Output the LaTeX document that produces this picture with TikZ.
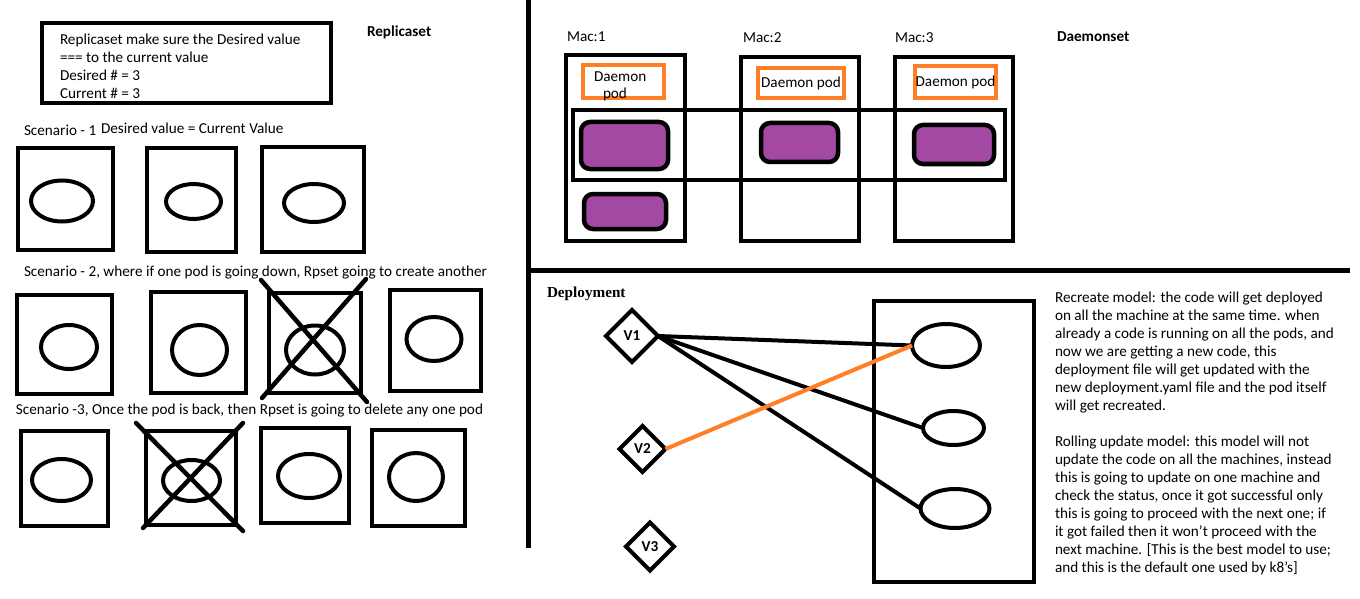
\documentclass[tikz,border=0pt]{standalone}
\usepackage{fontspec}
\setmainfont{Carlito}
\newfontfamily\serifbf{Liberation Serif}
\usetikzlibrary{
    calc,
    positioning,
    shapes.geometric
}
\definecolor{paintorange}{HTML}{FF7F27}
\definecolor{paintpurple}{HTML}{A349A4}
\tikzset{
    every node/.style = {
        inner sep = 0pt,
        outer sep = 0pt,
        font = \fontsize{15.2}{18}\selectfont
    },
    txt/.style = {anchor = west, align = left},
    title/.style = {anchor = west, font = \fontsize{15.2}{18}\selectfont\bfseries},
    host/.style args = {#1x#2}{
        draw, line width = 4.5pt,
        minimum width = #1pt, minimum height = #2pt
    },
    pod/.style args = {#1x#2}{
        draw, ellipse, line width = 4pt,
        minimum width = #1pt, minimum height = #2pt
    },
    dpod/.style args = {#1x#2}{
        draw, line width = 4.5pt, rounded corners = 9pt, fill = paintpurple,
        minimum width = #1pt, minimum height = #2pt
    },
    dbox/.style args = {#1x#2}{
        draw = paintorange, line width = 4pt,
        minimum width = #1pt, minimum height = #2pt
    },
    version/.style = {
        draw, diamond, line width = 4pt, minimum size = #1pt,
        font = \fontsize{15.2}{18}\selectfont\bfseries
    },
    cross/.style = {line width = 4.5pt, line cap = round},
    divider/.style = {line width = 5pt}
}

\begin{document}
\begin{tikzpicture}[x = 1pt, y = -1pt]
    \useasboundingbox (0, 0) rectangle (1360, 599);

    % Replicaset
    \node[host = 289x80] (info) at (186.5, 63) {};
    \node[txt] (infotext) at (60, 66)
        {Replicaset make sure the Desired value\\=== to the current value\\Desired \# = 3\\Current \# = 3};
    \node[title] (rs) at (367, 32) {Replicaset};

    \node[txt] (sc1) at (24, 130) {Scenario - 1};
    \node[txt] (sc1b) at (101, 128) {Desired value = Current Value};
    \node[host = 95x102] (b11) at (65.5, 199) {};
    \node[pod = 62x41] (e11) at (62, 201) {};
    \node[host = 89x104] (b12) at (191.5, 200) {};
    \node[pod = 55x35] (e12) at (193.5, 201.5) {};
    \node[host = 102x105] (b13) at (313, 199.5) {};
    \node[pod = 60x38] (e13) at (314, 203) {};

    \node[txt] (sc2) at (24, 273) {Scenario - 2, where if one pod is going down, Rpset going to create another};
    \node[host = 95x99] (b21) at (64.5, 344.5) {};
    \node[pod = 56x44] (e21) at (69, 347) {};
    \node[host = 95x101] (b22) at (198.5, 342.5) {};
    \node[pod = 55x50] (e22) at (199.5, 350) {};
    \node[host = 92x100] (b23) at (315, 343) {};
    \node[pod = 58x49] (e23) at (315, 350) {};
    \node[host = 91x101] (b24) at (435.5, 340.5) {};
    \node[pod = 55x44] (e24) at (434, 339) {};
    \draw[cross] (261, 280) -- (367, 402);
    \draw[cross] (366, 279) -- (262, 398);

    \node[txt] (sc3) at (16, 411) {Scenario -3, Once the pod is back, then Rpset is going to delete any one pod};
    \node[host = 87x95] (b31) at (64.5, 478.5) {};
    \node[pod = 59x42] (e31) at (61.5, 480) {};
    \node[host = 90x94] (b32) at (191, 478) {};
    \node[pod = 57x41] (e32) at (191.5, 480.5) {};
    \node[host = 88x95] (b33) at (305, 475.5) {};
    \node[pod = 62x44] (e33) at (309, 476) {};
    \node[host = 93x96] (b34) at (418.5, 478) {};
    \node[pod = 54x48] (e34) at (416, 477) {};
    \draw[cross] (136, 423) -- (243, 531);
    \draw[cross] (243, 423) -- (143, 528);

    \draw[divider] (528, 0) -- (528, 548);
    \draw[divider] (528, 270) -- (1350, 270);

    % Daemonset
    \node[txt] (mac1) at (567, 37) {Mac:1};
    \node[txt] (mac2) at (743, 38) {Mac:2};
    \node[txt] (mac3) at (895, 38) {Mac:3};
    \node[title] (ds) at (1057, 37) {Daemonset};

    \node[host = 119x186] (m1) at (625.5, 148) {};
    \node[host = 118x184] (m2) at (800, 149) {};
    \node[host = 118x184] (m3) at (954, 149) {};
    \node[host = 432x70] (band) at (789, 145) {};

    \node[dbox = 81x33] (o1) at (623.5, 81.5) {};
    \node[txt] (o1a) at (594, 77) {Daemon};
    \node[txt] (o1b) at (603, 94) {pod};
    \node[dbox = 86x30] (o2) at (801, 83) {Daemon pod};
    \node[dbox = 81x32] (o3) at (955.5, 82) {Daemon pod};

    \node[dpod = 87x47] (p1) at (624.5, 145.5) {};
    \node[dpod = 82x35] (p1b) at (625, 211.5) {};
    \node[dpod = 77x39] (p2) at (799.5, 142.5) {};
    \node[dpod = 80x39] (p3) at (954, 144.5) {};

    % Deployment
    \node[anchor = west, font = \fontsize{15.2}{18}\selectfont\serifbf\bfseries] (dep) at (547, 294) {Deployment};
    \node[version = 52] (v1) at (632, 336) {V1};
    \node[version = 46] (v2) at (642.5, 449) {V2};
    \node[version = 48] (v3) at (650, 546.5) {V3};

    \node[host = 160x281] (node) at (954, 441.5) {};
    \node[pod = 68x43] (d1) at (946, 345.5) {};
    \node[pod = 61x34] (d2) at (953.5, 428) {};
    \node[pod = 69x39] (d3) at (955, 508.5) {};

    \draw[line width = 4pt] (v1.east) -- (d1.west);
    \draw[line width = 4pt] (v1.east) -- (d2.west);
    \draw[line width = 4pt] (v1.east) -- (d3.west);
    \draw[line width = 4pt, paintorange] (v2.east) -- (d1.west);

    \node[txt] (notes) at (1055, 433)
        {Recreate model: the code will get deployed\\
         on all the machine at the same time. when\\
         already a code is running on all the pods, and\\
         now we are getting a new code, this\\
         deployment file will get updated with the\\
         new deployment.yaml file and the pod itself\\
         will get recreated.\\[18pt]
         Rolling update model: this model will not\\
         update the code on all the machines, instead\\
         this is going to update on one machine and\\
         check the status, once it got successful only\\
         this is going to proceed with the next one; if\\
         it got failed then it won't proceed with the\\
         next machine. [This is the best model to use;\\
         and this is the default one used by k8's]};
\end{tikzpicture}
\end{document}
